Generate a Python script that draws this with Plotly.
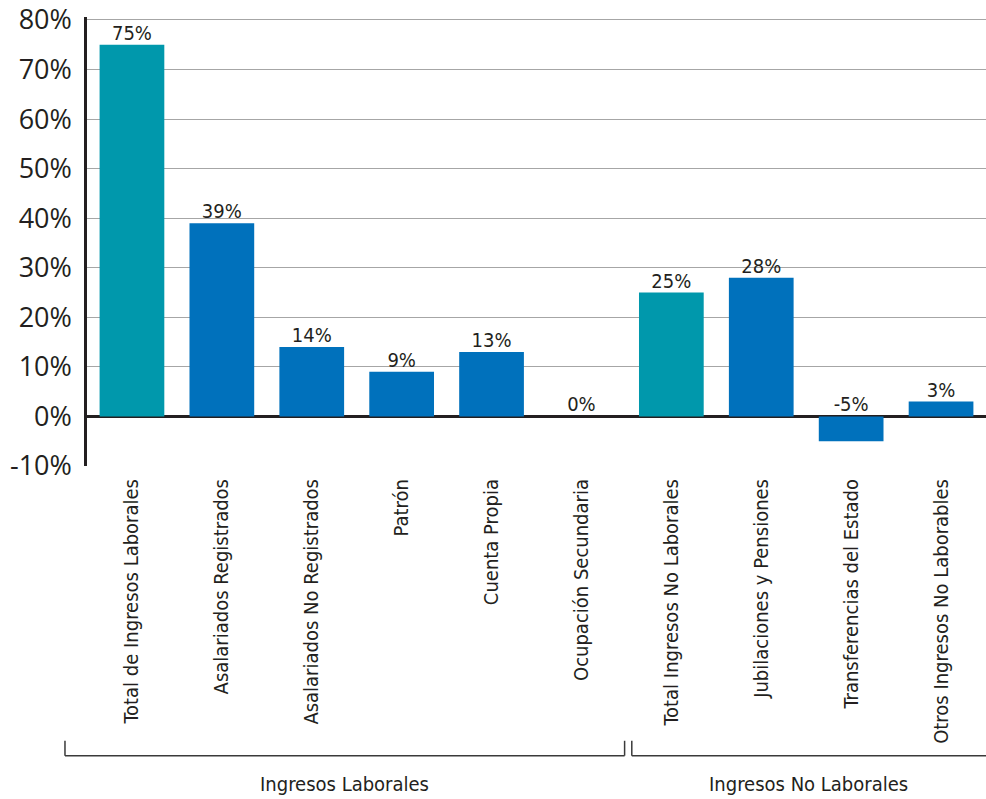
import plotly.graph_objects as go

categories = [
    "Total de Ingresos Laborales",
    "Asalariados Registrados",
    "Asalariados No Registrados",
    "Patrón",
    "Cuenta Propia",
    "Ocupación Secundaria",
    "Total Ingresos No Laborales",
    "Jubilaciones y Pensiones",
    "Transferencias del Estado",
    "Otros Ingresos No Laborables",
]
values = [75, 39, 14, 9, 13, 0, 25, 28, -5, 3]
is_total = [True, False, False, False, False, False, True, False, False, False]
groups = ["Ingresos Laborales", "Ingresos No Laborales"]
group_sizes = [6, 4]
y_ticks = [-10, 0, 10, 20, 30, 40, 50, 60, 70, 80]

TEAL = "#0098AC"
BLUE = "#0071BC"
TXT = "#231F20"
COND = "Liberation Sans Narrow, DejaVu Sans Condensed, Arial Narrow, sans-serif"
REG = "Open Sans, Noto Sans, sans-serif"

idx = list(range(len(categories)))
colors = [TEAL if t else BLUE for t in is_total]

fig = go.Figure()
fig.add_trace(go.Bar(
    x=idx, y=values, marker=dict(color=colors, line=dict(width=0)),
    width=0.72, hoverinfo="skip", showlegend=False,
))
fig.add_trace(go.Scatter(
    x=idx, y=[max(v, 0) for v in values], mode="text",
    text=[f"{v}%" for v in values], textposition="top center",
    textfont=dict(family=COND, size=20, color=TXT),
    hoverinfo="skip", showlegend=False, cliponaxis=False,
))

# plot-area geometry in pixels
PLOT_L, PLOT_W, PLOT_B, PLOT_H = 87, 899, 466, 451
def px_y(p):
    return (PLOT_B - p) / PLOT_H

ybar, ytop = px_y(757), px_y(742)
line = dict(color="#3A3A3A", width=1.5)
n_total = len(categories)
shapes = []
annotations = []
start = 0
for g, n in zip(groups, group_sizes):
    end = start + n
    x0 = -0.0245 if start == 0 else (start / n_total) + 0.006
    x1 = 1.0 if end == n_total else (end / n_total) - 0.002
    shapes.append(dict(type="line", xref="paper", yref="paper", x0=x0, x1=x1, y0=ybar, y1=ybar, line=line))
    shapes.append(dict(type="line", xref="paper", yref="paper", x0=x0, x1=x0, y0=ybar, y1=ytop, line=line))
    if end < n_total:
        shapes.append(dict(type="line", xref="paper", yref="paper", x0=x1, x1=x1, y0=ybar, y1=ytop, line=line))
    annotations.append(dict(
        x=(x0 + x1) / 2, y=px_y(785), xref="paper", yref="paper",
        text=g, showarrow=False, font=dict(family=COND, size=20, color=TXT),
        xanchor="center", yanchor="middle",
    ))
    start = end

fig.update_layout(
    width=986, height=799,
    margin=dict(l=PLOT_L, r=0, t=799 - 333 - PLOT_H, b=333),
    plot_bgcolor="white", paper_bgcolor="white",
    shapes=shapes, annotations=annotations,
    xaxis=dict(
        tickmode="array", tickvals=idx, ticktext=categories, tickangle=-90,
        tickfont=dict(family=COND, size=20, color=TXT),
        showgrid=False, zeroline=False, showline=False, ticks="",
        range=[-0.5, n_total - 0.5], fixedrange=True,
        ticklabelstandoff=8,
    ),
    yaxis=dict(
        range=[-10, 80.6], tickmode="array", tickvals=y_ticks,
        ticktext=[f"{t}%" for t in y_ticks],
        tickfont=dict(family=REG, size=27, color=TXT),
        showgrid=True, gridcolor="#A6A6A6", gridwidth=1.2,
        zeroline=True, zerolinecolor="#231F20", zerolinewidth=3,
        showline=True, linecolor="#231F20", linewidth=2.5,
        ticks="", ticklabelstandoff=7, fixedrange=True,
        ticklabeloverflow="allow",
    ),
)

fig.write_html(
    "out.html",
    config={"displayModeBar": False},
    post_script=(
        "document.body.style.margin='0px';"
        "document.body.style.overflow='hidden';"
        "document.documentElement.style.overflow='hidden';"
    ),
)
